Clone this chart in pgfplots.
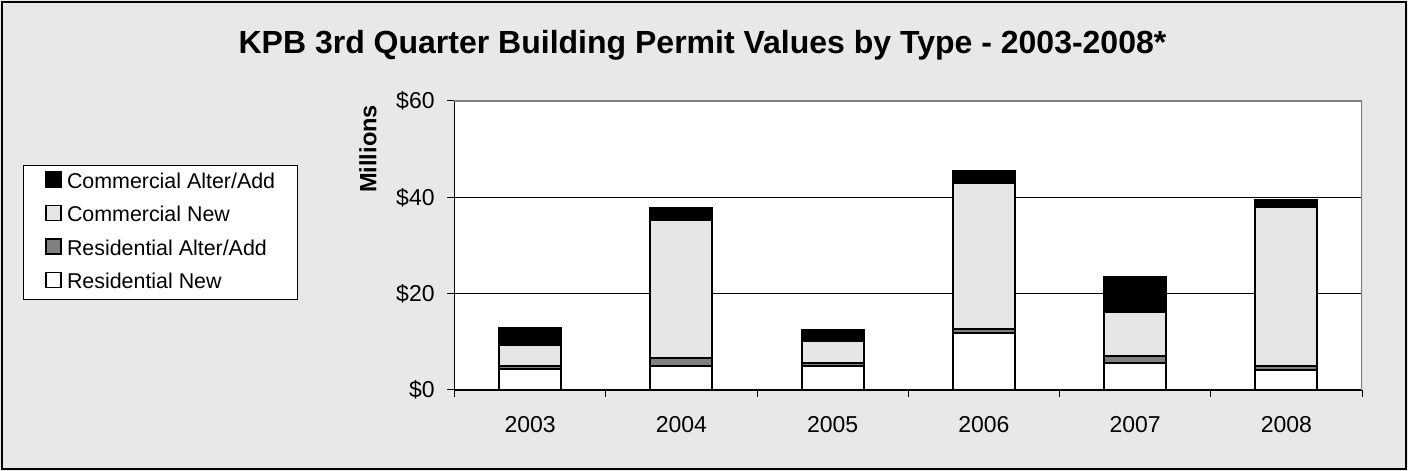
\documentclass[border=0pt]{standalone}
\usepackage{pgfplots}
\pgfplotsset{compat=1.18}
\usepackage{fontspec}
\setmainfont{Liberation Sans}
\definecolor{bg}{RGB}{232,232,232}
\definecolor{comnew}{RGB}{230,230,230}
\definecolor{resaa}{RGB}{128,128,128}
\begin{document}
\begin{tikzpicture}
\useasboundingbox (0,0) rectangle (704pt,235.5pt);
\fill[bg] (0,0) rectangle (704pt,235.5pt);
\draw[black, line width=1pt] (1pt,1pt) rectangle (703pt,234.5pt);
\node[font=\bfseries\fontsize{16}{19}\selectfont, anchor=base] at (351.25pt,208.8pt) {KPB 3rd Quarter Building Permit Values by Type - 2003-2008*};
\begin{axis}[
  at={(227.25pt,40.5pt)}, anchor=south west,
  scale only axis, width=453.75pt, height=144.5pt,
  axis background/.style={fill=white},
  ybar stacked, bar width=0.41,
  xmin=-0.5, xmax=5.5, ymin=0, ymax=60,
  axis x line*=bottom, axis y line*=left,
  axis line style={black, line width=0.6pt},
  tick align=outside, major tick length=3.5pt,
  tick style={black, line width=0.5pt},
  xtick={-0.5,0.5,...,5.5}, xticklabels={},
  extra x ticks={0,1,2,3,4,5},
  extra x tick labels={2003,2004,2005,2006,2007,2008},
  extra x tick style={tick style={draw=none}},
  xticklabel style={font=\fontsize{11.5}{13}\selectfont, anchor=north, inner sep=0pt, yshift=-9.5pt},
  ytick={0,20,40,60}, yticklabels={\$0,\$20,\$40,\$60},
  extra y ticks={20,40}, extra y tick labels={},
  extra y tick style={grid=major, grid style={black, line width=0.5pt}},
  yticklabel style={font=\fontsize{11.5}{13}\selectfont, anchor=east, inner sep=0pt, xshift=-6.25pt},
  ylabel={Millions},
  every axis y label/.style={at={(axis description cs:-0.0953,0.834)}, rotate=90, anchor=center, font=\bfseries\fontsize{11.8}{13}\selectfont},
  reverse legend,
  legend cell align=left,
  legend style={at={(-0.4758,0.7796)}, anchor=north west, draw=black, line width=0.5pt, fill=white,
    font=\fontsize{10.7}{12}\selectfont, inner xsep=11pt, inner ysep=3pt, row sep=5.75pt,
    nodes={inner sep=0pt, text height=8pt, text depth=2.5pt}, column sep=2.5pt},
  legend image code/.code={\draw[#1, line width=0.9pt, draw=black] (0pt,-2.2pt) rectangle (7.5pt,5.3pt);},
]
\addplot[fill=white, draw=black, line width=1pt] coordinates {(0,4.3) (1,5.0) (2,4.9) (3,11.8) (4,5.6) (5,4.1)};
\addlegendentry{Residential New}
\addplot[fill=resaa, draw=black, line width=1pt] coordinates {(0,0.6) (1,1.6) (2,0.8) (3,0.9) (4,1.5) (5,0.9)};
\addlegendentry{Residential Alter/Add}
\addplot[fill=comnew, draw=black, line width=1pt] coordinates {(0,4.4) (1,28.7) (2,4.5) (3,30.3) (4,9.0) (5,33.0)};
\addlegendentry{Commercial New}
\addplot[fill=black, draw=black, line width=1pt] coordinates {(0,3.6) (1,2.4) (2,2.2) (3,2.4) (4,7.3) (5,1.4)};
\addlegendentry{Commercial Alter/Add}
\draw[gray, line width=0.8pt] (rel axis cs:0,1) -- (rel axis cs:1,1) -- (rel axis cs:1,0);
\end{axis}
\end{tikzpicture}
\end{document}
